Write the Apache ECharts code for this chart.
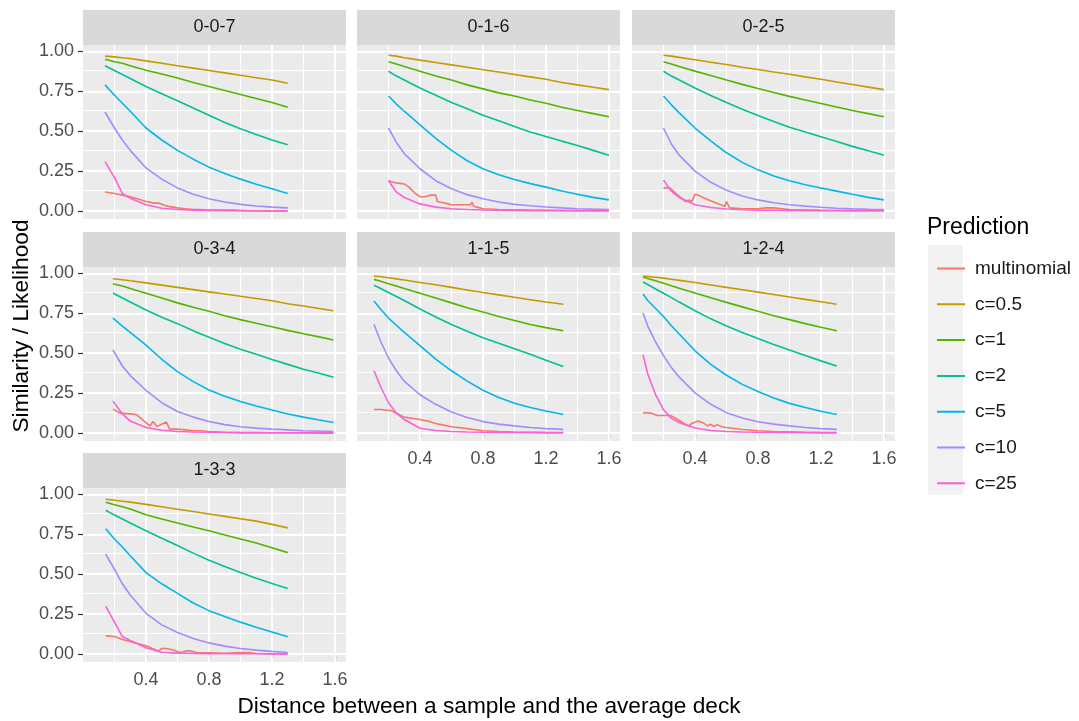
<!DOCTYPE html>
<html><head><meta charset="utf-8">
<script src="https://cdn.jsdelivr.net/npm/echarts@6/dist/echarts.min.js"></script>
<style>html,body{margin:0;padding:0;background:#fff}#c{width:1079px;height:721px}</style>
</head><body><div id="c"></div>
<script>
// ---------- categories / labels ----------
const seriesNames = ['multinomial','c=0.5','c=1','c=2','c=5','c=10','c=25'];
const seriesColors = ['#F8766D','#C49A00','#53B400','#00C094','#00B6EB','#A58AFF','#FB61D7'];
const panelNames = ['0-0-7','0-1-6','0-2-5','0-3-4','1-1-5','1-2-4','1-3-3'];
const yTicks = [0, 0.25, 0.5, 0.75, 1];
const yMinor = [0.125, 0.375, 0.625, 0.875];
const xTicks = [0.4, 0.8, 1.2, 1.6];
const xMinor = [0.2, 0.6, 1.0, 1.4];
const xTitle = 'Distance between a sample and the average deck';
const yTitle = 'Similarity / Likelihood';
const legendTitle = 'Prediction';

// ---------- panel 0-0-7 ----------
const p007_x    = [0.14,0.2,0.25,0.3,0.4,0.5,0.6,0.7,0.8,0.9,1.0,1.1,1.2,1.3];
const p007_c05  = [0.97,0.965,0.96,0.955,0.94,0.925,0.91,0.895,0.88,0.865,0.85,0.835,0.82,0.80];
const p007_c1   = [0.95,0.935,0.925,0.91,0.882,0.858,0.833,0.805,0.78,0.755,0.73,0.705,0.68,0.65];
const p007_c2   = [0.91,0.88,0.855,0.83,0.78,0.735,0.69,0.645,0.60,0.555,0.515,0.48,0.445,0.415];
const p007_c5   = [0.79,0.725,0.675,0.625,0.52,0.445,0.38,0.325,0.275,0.235,0.20,0.168,0.14,0.11];
const p007_c10  = [0.62,0.52,0.445,0.38,0.27,0.20,0.145,0.105,0.077,0.057,0.042,0.032,0.025,0.02];
const p007_c25  = [0.31,0.21,0.11,0.08,0.04,0.018,0.01,0.006,0.004,0.003,0.002,0.001,0.001,0.001];
const p007_mx   = [0.14,0.2,0.25,0.3,0.35,0.4,0.45,0.48,0.49,0.52,0.55,0.6,0.65,0.7,0.73,0.74,0.78,0.85,0.95,1.05,1.2,1.3];
const p007_mult = [0.12,0.11,0.10,0.09,0.075,0.06,0.05,0.05,0.06,0.035,0.028,0.02,0.015,0.01,0.01,0.018,0.008,0.006,0.006,0.002,0.001,0.0];

// ---------- panel 0-1-6 ----------
const p016_x    = [0.2,0.25,0.3,0.4,0.5,0.6,0.7,0.8,0.9,1.0,1.1,1.2,1.3,1.4,1.5,1.6];
const p016_c05  = [0.975,0.97,0.96,0.945,0.93,0.915,0.9,0.885,0.87,0.855,0.84,0.825,0.805,0.79,0.775,0.76];
const p016_c1   = [0.935,0.92,0.905,0.875,0.845,0.82,0.79,0.765,0.74,0.72,0.695,0.675,0.65,0.63,0.61,0.59];
const p016_c2   = [0.875,0.845,0.82,0.77,0.725,0.68,0.64,0.60,0.565,0.53,0.495,0.467,0.438,0.41,0.38,0.35];
const p016_c5   = [0.72,0.67,0.625,0.54,0.455,0.38,0.315,0.265,0.228,0.198,0.172,0.15,0.126,0.105,0.086,0.07];
const p016_c10  = [0.52,0.43,0.36,0.265,0.19,0.14,0.103,0.077,0.057,0.042,0.033,0.026,0.02,0.015,0.012,0.01];
const p016_c25  = [0.19,0.12,0.085,0.045,0.025,0.015,0.01,0.007,0.005,0.004,0.003,0.003,0.002,0.002,0.002,0.002];
const p016_mx   = [0.2,0.23,0.26,0.3,0.33,0.37,0.4,0.43,0.44,0.47,0.5,0.51,0.53,0.56,0.6,0.65,0.72,0.73,0.74,0.78,0.8,0.9,1.0,1.1,1.2,1.4,1.6];
const p016_mult = [0.19,0.18,0.175,0.17,0.15,0.11,0.09,0.09,0.10,0.10,0.10,0.06,0.055,0.05,0.04,0.04,0.04,0.055,0.03,0.02,0.015,0.01,0.008,0.006,0.005,0.003,0.002];

// ---------- panel 0-2-5 ----------
const p025_x    = [0.2,0.25,0.3,0.4,0.5,0.6,0.7,0.8,0.9,1.0,1.1,1.2,1.3,1.4,1.5,1.6];
const p025_c05  = [0.975,0.97,0.962,0.947,0.932,0.917,0.90,0.886,0.871,0.856,0.84,0.825,0.808,0.792,0.776,0.76];
const p025_c1   = [0.935,0.92,0.905,0.876,0.848,0.82,0.793,0.767,0.742,0.718,0.695,0.673,0.651,0.63,0.61,0.59];
const p025_c2   = [0.875,0.845,0.82,0.77,0.723,0.68,0.638,0.598,0.56,0.525,0.495,0.465,0.435,0.405,0.378,0.35];
const p025_c5   = [0.72,0.665,0.615,0.52,0.44,0.365,0.305,0.258,0.22,0.19,0.165,0.145,0.125,0.105,0.086,0.07];
const p025_c10  = [0.52,0.42,0.35,0.25,0.18,0.13,0.095,0.07,0.052,0.04,0.031,0.024,0.018,0.014,0.011,0.01];
const p025_c25  = [0.195,0.125,0.085,0.04,0.022,0.013,0.008,0.006,0.005,0.004,0.003,0.003,0.002,0.002,0.002,0.002];
const p025_mx   = [0.2,0.24,0.28,0.32,0.34,0.36,0.38,0.40,0.42,0.46,0.5,0.55,0.59,0.60,0.62,0.7,0.8,0.85,0.9,0.95,1.0,1.2,1.4,1.6];
const p025_mult = [0.145,0.145,0.11,0.075,0.06,0.07,0.06,0.105,0.10,0.08,0.065,0.045,0.03,0.06,0.02,0.015,0.015,0.02,0.02,0.015,0.01,0.005,0.003,0.002];

// ---------- panel 0-3-4 ----------
const p034_x    = [0.19,0.25,0.3,0.4,0.5,0.6,0.7,0.8,0.9,1.0,1.1,1.2,1.3,1.4,1.5,1.59];
const p034_c05  = [0.966,0.96,0.953,0.94,0.926,0.912,0.898,0.884,0.87,0.856,0.842,0.828,0.81,0.795,0.78,0.766];
const p034_c1   = [0.935,0.92,0.905,0.875,0.845,0.815,0.788,0.762,0.735,0.71,0.687,0.665,0.643,0.622,0.602,0.583];
const p034_c2   = [0.877,0.845,0.82,0.77,0.725,0.685,0.64,0.60,0.56,0.525,0.493,0.46,0.43,0.40,0.375,0.35];
const p034_c5   = [0.72,0.67,0.63,0.55,0.462,0.385,0.322,0.27,0.23,0.198,0.17,0.145,0.12,0.10,0.082,0.066];
const p034_c10  = [0.52,0.42,0.36,0.268,0.19,0.135,0.10,0.072,0.053,0.04,0.031,0.025,0.02,0.015,0.012,0.01];
const p034_c25  = [0.20,0.12,0.075,0.035,0.018,0.01,0.007,0.005,0.004,0.003,0.003,0.002,0.002,0.002,0.002,0.002];
const p034_mx   = [0.19,0.235,0.3,0.34,0.39,0.425,0.445,0.47,0.53,0.55,0.6,0.65,0.7,0.75,0.8,0.9,1.0,1.2,1.4,1.59];
const p034_mult = [0.15,0.125,0.12,0.115,0.073,0.045,0.073,0.042,0.069,0.025,0.025,0.02,0.015,0.015,0.01,0.005,0.003,0.002,0.001,0.0];

// ---------- panel 1-1-5 ----------
const p115_x    = [0.108,0.15,0.2,0.25,0.3,0.4,0.5,0.6,0.7,0.8,0.9,1.0,1.1,1.2,1.31];
const p115_c05  = [0.983,0.978,0.972,0.965,0.958,0.943,0.928,0.912,0.896,0.88,0.865,0.85,0.835,0.82,0.806];
const p115_c1   = [0.962,0.95,0.935,0.92,0.905,0.875,0.845,0.815,0.785,0.758,0.73,0.705,0.68,0.66,0.64];
const p115_c2   = [0.925,0.905,0.88,0.855,0.83,0.777,0.727,0.68,0.637,0.597,0.562,0.528,0.494,0.456,0.416];
const p115_c5   = [0.827,0.775,0.72,0.675,0.63,0.548,0.463,0.39,0.325,0.268,0.223,0.187,0.16,0.138,0.116];
const p115_c10  = [0.68,0.575,0.47,0.39,0.325,0.24,0.18,0.132,0.097,0.072,0.056,0.045,0.035,0.028,0.023];
const p115_c25  = [0.39,0.29,0.19,0.125,0.085,0.03,0.016,0.01,0.007,0.005,0.004,0.004,0.003,0.003,0.003];
const p115_mx   = [0.108,0.15,0.22,0.26,0.3,0.4,0.45,0.5,0.55,0.6,0.7,0.8,0.9,1.0,1.1,1.2,1.31];
const p115_mult = [0.148,0.148,0.14,0.12,0.10,0.085,0.075,0.06,0.05,0.04,0.028,0.015,0.01,0.006,0.005,0.003,0.002];

// ---------- panel 1-2-4 ----------
const p124_x    = [0.07,0.1,0.15,0.2,0.25,0.3,0.4,0.5,0.6,0.7,0.8,0.9,1.0,1.1,1.2,1.3];
const p124_c05  = [0.983,0.98,0.975,0.97,0.963,0.956,0.942,0.927,0.912,0.897,0.882,0.867,0.852,0.837,0.822,0.806];
const p124_c1   = [0.977,0.968,0.953,0.938,0.922,0.907,0.877,0.847,0.818,0.79,0.762,0.735,0.71,0.685,0.662,0.64];
const p124_c2   = [0.946,0.93,0.902,0.875,0.848,0.82,0.766,0.715,0.67,0.63,0.592,0.555,0.52,0.485,0.452,0.42];
const p124_c5   = [0.87,0.83,0.78,0.73,0.672,0.62,0.515,0.43,0.362,0.305,0.26,0.22,0.186,0.16,0.137,0.116];
const p124_c10  = [0.752,0.67,0.57,0.485,0.41,0.35,0.252,0.18,0.128,0.095,0.071,0.056,0.045,0.035,0.028,0.023];
const p124_c25  = [0.49,0.37,0.24,0.146,0.092,0.065,0.032,0.016,0.01,0.007,0.005,0.004,0.004,0.003,0.003,0.003];
const p124_mx   = [0.07,0.12,0.16,0.245,0.29,0.33,0.36,0.38,0.42,0.45,0.48,0.5,0.52,0.54,0.57,0.6,0.7,0.8,0.9,1.0,1.1,1.2,1.3];
const p124_mult = [0.127,0.125,0.11,0.11,0.085,0.06,0.045,0.06,0.075,0.065,0.045,0.055,0.04,0.053,0.04,0.035,0.022,0.015,0.01,0.008,0.005,0.003,0.002];

// ---------- panel 1-3-3 ----------
const p133_x    = [0.144,0.2,0.25,0.3,0.4,0.5,0.6,0.7,0.8,0.9,1.0,1.1,1.2,1.3];
const p133_c05  = [0.969,0.963,0.957,0.951,0.937,0.922,0.907,0.892,0.877,0.862,0.847,0.832,0.812,0.79];
const p133_c1   = [0.95,0.935,0.922,0.908,0.872,0.845,0.82,0.795,0.772,0.745,0.72,0.695,0.665,0.635];
const p133_c2   = [0.90,0.87,0.845,0.82,0.772,0.725,0.68,0.632,0.587,0.548,0.51,0.475,0.442,0.41];
const p133_c5   = [0.785,0.72,0.67,0.615,0.51,0.44,0.38,0.32,0.272,0.235,0.20,0.168,0.138,0.108];
const p133_c10  = [0.625,0.53,0.44,0.37,0.255,0.183,0.135,0.097,0.07,0.05,0.035,0.025,0.017,0.01];
const p133_c25  = [0.30,0.20,0.11,0.085,0.04,0.012,0.006,0.004,0.003,0.002,0.002,0.002,0.001,0.001];
const p133_mx   = [0.144,0.2,0.24,0.32,0.4,0.44,0.48,0.5,0.53,0.57,0.62,0.66,0.68,0.72,0.8,0.9,1.0,1.05,1.1,1.2,1.3];
const p133_mult = [0.114,0.11,0.095,0.073,0.052,0.035,0.02,0.035,0.035,0.025,0.01,0.02,0.02,0.01,0.008,0.005,0.01,0.01,0.004,0.002,0.001];

// ---------- assemble ----------
const panels = [
  {x:p007_x, mx:p007_mx, mult:p007_mult, c:[p007_c05,p007_c1,p007_c2,p007_c5,p007_c10,p007_c25]},
  {x:p016_x, mx:p016_mx, mult:p016_mult, c:[p016_c05,p016_c1,p016_c2,p016_c5,p016_c10,p016_c25]},
  {x:p025_x, mx:p025_mx, mult:p025_mult, c:[p025_c05,p025_c1,p025_c2,p025_c5,p025_c10,p025_c25]},
  {x:p034_x, mx:p034_mx, mult:p034_mult, c:[p034_c05,p034_c1,p034_c2,p034_c5,p034_c10,p034_c25]},
  {x:p115_x, mx:p115_mx, mult:p115_mult, c:[p115_c05,p115_c1,p115_c2,p115_c5,p115_c10,p115_c25]},
  {x:p124_x, mx:p124_mx, mult:p124_mult, c:[p124_c05,p124_c1,p124_c2,p124_c5,p124_c10,p124_c25]},
  {x:p133_x, mx:p133_mx, mult:p133_mult, c:[p133_c05,p133_c1,p133_c2,p133_c5,p133_c10,p133_c25]}
];

const FONT = '"Liberation Sans", Arial, sans-serif';
const colLeft = [83, 357, 632];
const rowTop = [45, 267, 488];
const PW = 263, PH = 174, STRIP = 35;
const showY = [true,false,false,true,false,false,true];
const showX = [false,false,false,false,true,true,true];

const grids = [], xAxes = [], yAxes = [], series = [], graphics = [];

panels.forEach((p, i) => {
  const left = colLeft[i % 3], top = rowTop[Math.floor(i / 3)];
  grids.push({left, top, width: PW, height: PH, show: true, backgroundColor: '#EBEBEB', borderWidth: 0, containLabel: false});
  xAxes.push({
    type: 'value', gridIndex: i, min: 0, max: 1.67,
    axisLine: {show: false}, splitLine: {show: false},
    axisTick: {show: showX[i], customValues: xTicks, length: 5, lineStyle: {color: '#333333', width: 1.2}},
    axisLabel: {show: showX[i], customValues: xTicks, margin: 9, color: '#4D4D4D', fontSize: 18, fontFamily: FONT,
      formatter: v => v.toFixed(1)}
  });
  yAxes.push({
    type: 'value', gridIndex: i, min: -0.0495, max: 1.0395,
    axisLine: {show: false}, splitLine: {show: false},
    axisTick: {show: showY[i], customValues: yTicks, length: 5, lineStyle: {color: '#333333', width: 1.2}},
    axisLabel: {show: showY[i], customValues: yTicks, margin: 9, color: '#4D4D4D', fontSize: 18, fontFamily: FONT,
      formatter: v => v.toFixed(2)}
  });
  const gridLines = [].concat(
    xMinor.map(v => ({xAxis: v, lineStyle: {width: 1}})),
    yMinor.map(v => ({yAxis: v, lineStyle: {width: 1}})),
    xTicks.map(v => ({xAxis: v})),
    yTicks.map(v => ({yAxis: v}))
  );
  series.push({
    name: seriesNames[0], type: 'line', xAxisIndex: i, yAxisIndex: i, symbol: 'none', z: 3,
    lineStyle: {color: seriesColors[0], width: 1.6}, itemStyle: {color: seriesColors[0]},
    data: p.mx.map((x, j) => [x, p.mult[j]]),
    markLine: {silent: true, symbol: ['none','none'], z: 1, label: {show: false},
      lineStyle: {color: '#FFFFFF', type: 'solid', width: 1.9}, emphasis: {disabled: true}, data: gridLines}
  });
  p.c.forEach((arr, k) => {
    series.push({
      name: seriesNames[k + 1], type: 'line', xAxisIndex: i, yAxisIndex: i, symbol: 'none', z: 3,
      lineStyle: {color: seriesColors[k + 1], width: 1.6}, itemStyle: {color: seriesColors[k + 1]},
      data: p.x.map((x, j) => [x, arr[j]])
    });
  });
  // strip
  graphics.push({type: 'rect', shape: {x: left, y: top - STRIP, width: PW, height: STRIP}, style: {fill: '#D9D9D9'}, silent: true});
  graphics.push({type: 'text', x: left + PW / 2, y: top - STRIP / 2, silent: true,
    style: {text: panelNames[i], align: 'center', verticalAlign: 'middle', fill: '#1A1A1A', font: '18px ' + FONT}});
});

// axis titles and legend decorations
graphics.push({type: 'text', x: 489, y: 707, silent: true,
  style: {text: xTitle, align: 'center', verticalAlign: 'middle', fill: '#000000', font: '22.7px ' + FONT}});
graphics.push({type: 'text', x: 22, y: 326, rotation: Math.PI / 2, silent: true,
  style: {text: yTitle, align: 'center', verticalAlign: 'middle', fill: '#000000', font: '22.7px ' + FONT}});
graphics.push({type: 'text', x: 927, y: 228, silent: true,
  style: {text: legendTitle, align: 'left', verticalAlign: 'middle', fill: '#000000', font: '23px ' + FONT}});
graphics.push({type: 'rect', z: -1, shape: {x: 928, y: 245, width: 35, height: 250}, style: {fill: '#F2F2F2'}, silent: true});

const chart = echarts.init(document.getElementById('c'), null, {renderer: 'canvas'});
chart.setOption({
  animation: false,
  backgroundColor: '#FFFFFF',
  grid: grids, xAxis: xAxes, yAxis: yAxes, series,
  legend: {
    data: seriesNames, orient: 'vertical', left: 932, top: 253.5,
    icon: 'path://M0,0L0.001,0L0.001,0.001ZM0,9L28,9L28,11L0,11ZM27.999,19.999L28,19.999L28,20Z',
    itemWidth: 28, itemHeight: 20, itemGap: 15.8, selectedMode: false,
    itemStyle: {borderWidth: 0},
    textStyle: {fontSize: 19, color: '#1A1A1A', fontFamily: FONT, lineHeight: 20, padding: [0, 0, 0, 5]}
  },
  graphic: graphics
});
</script>
</body></html>
